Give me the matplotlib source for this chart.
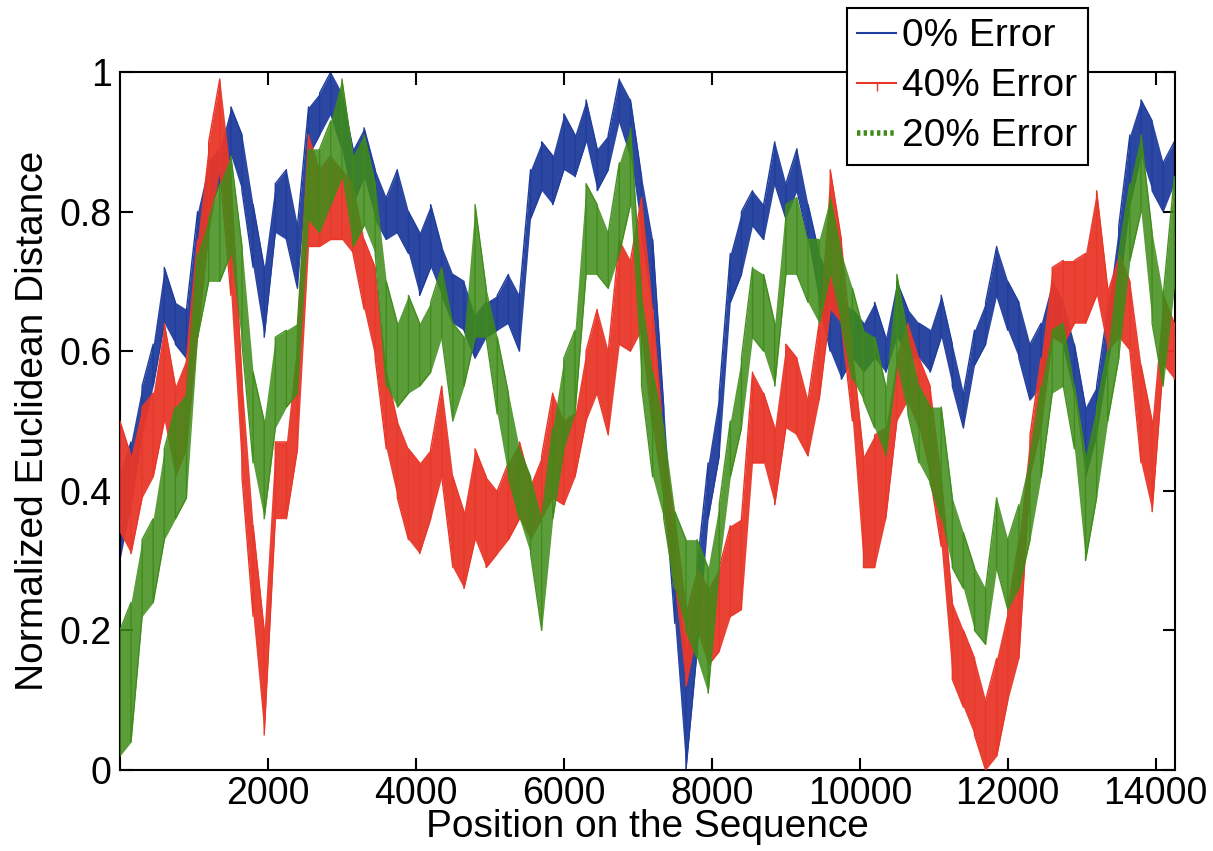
import numpy as np
import matplotlib
matplotlib.use("Agg")
import matplotlib.pyplot as plt

# ---------------- data ----------------
positions = list(range(0, 14251, 150))

blue_lo = [0.30,0.38,0.48,0.55,0.64,0.61,0.59,0.70,0.80,0.84,0.88,0.83,0.72,0.62,0.77,0.76,
           0.69,0.88,0.91,0.94,0.89,0.81,0.85,0.79,0.76,0.77,0.74,0.68,0.72,0.68,0.64,0.63,
           0.59,0.62,0.63,0.64,0.60,0.79,0.83,0.81,0.86,0.85,0.90,0.83,0.86,0.93,0.88,0.77,
           0.66,0.42,0.21,0.00,0.17,0.36,0.45,0.67,0.71,0.78,0.76,0.84,0.79,0.83,0.76,0.67,
           0.60,0.56,0.59,0.57,0.59,0.57,0.62,0.59,0.59,0.57,0.62,0.55,0.49,0.58,0.61,0.68,
           0.63,0.59,0.53,0.55,0.62,0.61,0.54,0.42,0.48,0.58,0.68,0.81,0.88,0.83,0.80,0.84]
blue_hi = [0.42,0.47,0.55,0.61,0.72,0.67,0.66,0.80,0.87,0.89,0.95,0.91,0.81,0.72,0.84,0.86,
           0.78,0.95,0.97,1.00,0.97,0.89,0.92,0.86,0.82,0.86,0.80,0.77,0.81,0.75,0.71,0.70,
           0.65,0.67,0.68,0.71,0.68,0.86,0.90,0.88,0.94,0.91,0.96,0.89,0.91,0.99,0.96,0.85,
           0.76,0.52,0.29,0.17,0.29,0.44,0.54,0.74,0.80,0.83,0.81,0.90,0.84,0.89,0.81,0.74,
           0.70,0.67,0.66,0.64,0.67,0.62,0.70,0.66,0.64,0.63,0.68,0.61,0.54,0.63,0.67,0.75,
           0.70,0.67,0.61,0.64,0.70,0.67,0.61,0.52,0.55,0.66,0.78,0.91,0.96,0.93,0.87,0.90]

red_lo = [0.34,0.31,0.39,0.42,0.50,0.42,0.46,0.62,0.77,0.86,0.68,0.42,0.22,0.05,0.36,0.36,
          0.46,0.75,0.75,0.76,0.76,0.74,0.66,0.59,0.46,0.39,0.33,0.31,0.36,0.42,0.29,0.26,
          0.33,0.29,0.31,0.33,0.36,0.33,0.36,0.39,0.38,0.42,0.50,0.54,0.48,0.61,0.60,0.63,
          0.49,0.38,0.26,0.12,0.20,0.15,0.17,0.22,0.23,0.44,0.44,0.38,0.49,0.48,0.45,0.53,
          0.66,0.64,0.50,0.29,0.29,0.36,0.50,0.53,0.49,0.42,0.32,0.13,0.09,0.05,0.00,0.02,
          0.10,0.16,0.42,0.49,0.62,0.61,0.64,0.64,0.68,0.60,0.62,0.60,0.44,0.37,0.58,0.56]
red_hi = [0.50,0.45,0.52,0.54,0.64,0.55,0.59,0.76,0.90,0.99,0.85,0.56,0.35,0.20,0.47,0.47,
          0.62,0.91,0.86,0.88,0.86,0.84,0.76,0.72,0.57,0.50,0.46,0.44,0.46,0.55,0.42,0.37,
          0.46,0.42,0.40,0.44,0.47,0.41,0.45,0.54,0.50,0.51,0.60,0.66,0.60,0.76,0.73,0.82,
          0.66,0.47,0.36,0.23,0.29,0.26,0.29,0.35,0.36,0.57,0.54,0.49,0.61,0.59,0.53,0.64,
          0.86,0.76,0.60,0.45,0.48,0.49,0.59,0.64,0.59,0.55,0.42,0.24,0.20,0.16,0.10,0.16,
          0.23,0.33,0.48,0.59,0.72,0.73,0.73,0.74,0.83,0.69,0.74,0.70,0.58,0.50,0.68,0.64]

green_lo = [0.02,0.04,0.22,0.24,0.33,0.36,0.39,0.62,0.70,0.70,0.74,0.61,0.44,0.36,0.49,0.52,
            0.54,0.79,0.77,0.81,0.85,0.75,0.78,0.74,0.55,0.52,0.54,0.55,0.57,0.62,0.50,0.55,
            0.62,0.62,0.51,0.42,0.36,0.31,0.20,0.36,0.46,0.51,0.71,0.71,0.69,0.74,0.81,0.55,
            0.42,0.36,0.26,0.20,0.16,0.11,0.29,0.42,0.49,0.62,0.60,0.55,0.71,0.71,0.67,0.64,
            0.71,0.64,0.56,0.53,0.49,0.45,0.58,0.51,0.44,0.41,0.36,0.29,0.26,0.20,0.18,0.29,
            0.23,0.26,0.33,0.42,0.54,0.55,0.46,0.30,0.39,0.50,0.59,0.73,0.80,0.64,0.55,0.69]
green_hi = [0.20,0.24,0.33,0.36,0.46,0.52,0.54,0.74,0.79,0.84,0.88,0.75,0.57,0.50,0.62,0.63,
            0.64,0.89,0.89,0.93,0.99,0.88,0.91,0.84,0.70,0.64,0.68,0.64,0.67,0.72,0.64,0.62,
            0.81,0.69,0.62,0.54,0.46,0.42,0.36,0.49,0.59,0.63,0.84,0.81,0.77,0.87,0.92,0.68,
            0.57,0.49,0.37,0.33,0.33,0.29,0.38,0.50,0.59,0.72,0.71,0.64,0.81,0.82,0.76,0.76,
            0.82,0.74,0.69,0.63,0.62,0.55,0.71,0.62,0.55,0.52,0.52,0.39,0.34,0.29,0.26,0.39,
            0.33,0.38,0.45,0.55,0.63,0.64,0.55,0.45,0.52,0.60,0.74,0.84,0.91,0.77,0.68,0.85]

labels = ["0% Error", "40% Error", "20% Error"]
x_ticks = [2000, 4000, 6000, 8000, 10000, 12000, 14000]
y_ticks = [0, 0.2, 0.4, 0.6, 0.8, 1.0]
y_ticklabels = ["0", "0.2", "0.4", "0.6", "0.8", "1"]

# ---------------- styling ----------------
BLUE = "#1f3d9c"
RED = "#e8382a"
GREEN = "#3f8c18"

plt.rcParams["font.family"] = ["Liberation Sans", "DejaVu Sans"]

fig = plt.figure(figsize=(12.13, 8.51), dpi=100)
ax = fig.add_axes([0.0989, 0.0952, 0.8698, 0.8202])

x = np.array(positions, dtype=float)


def draw_band(lo, hi, color, alpha, z):
    lo = np.array(lo)
    hi = np.array(hi)
    ax.fill_between(x, lo, hi, color=color, alpha=alpha, linewidth=0, zorder=z)
    # jagged strokes through the read envelope values
    xs = np.repeat(x, 2)
    ys = np.empty(2 * len(x))
    even = np.arange(len(x)) % 2 == 0
    ys[0::2] = np.where(even, lo, hi)
    ys[1::2] = np.where(even, hi, lo)
    ax.plot(xs, ys, color=color, lw=1.0, alpha=min(1.0, alpha + 0.1), zorder=z)


draw_band(blue_lo, blue_hi, BLUE, 0.95, 2)
draw_band(red_lo, red_hi, RED, 0.95, 3)
draw_band(green_lo, green_hi, GREEN, 0.85, 4)

# legend proxies
h0, = ax.plot([], [], color=BLUE, lw=1.5, label=labels[0])
h1, = ax.plot([], [], color=RED, lw=1.5, marker=3, markersize=6, label=labels[1])
h2, = ax.plot([], [], color=GREEN, lw=4, linestyle=(0, (0.6, 0.6)), label=labels[2])

ax.set_xlim(1, 14260)
ax.set_ylim(0, 1)
ax.set_xticks(x_ticks)
ax.set_xticklabels([str(t) for t in x_ticks])
ax.set_yticks(y_ticks)
ax.set_yticklabels(y_ticklabels)

ax.tick_params(direction="in", length=9, width=1.5, top=True, right=True,
               labelsize=27)
ax.tick_params(axis="x", pad=4)
ax.tick_params(axis="y", pad=6)
for s in ax.spines.values():
    s.set_linewidth(1.5)

ax.set_xlabel("Position on the Sequence", fontsize=28, labelpad=-2)
ax.set_ylabel("Normalized Euclidean Distance", fontsize=28, labelpad=6)

leg = ax.legend(handles=[h0, h1, h2], loc="upper left",
                bbox_to_anchor=(0.689, 1.092), fontsize=28, frameon=True,
                fancybox=False, edgecolor="black", framealpha=1,
                handlelength=1.0, handletextpad=0.15, labelspacing=0.36,
                borderpad=0.27, borderaxespad=0, numpoints=1)
leg.get_frame().set_linewidth(1.5)
leg.set_zorder(10)

fig.savefig("out.png", dpi=100)
